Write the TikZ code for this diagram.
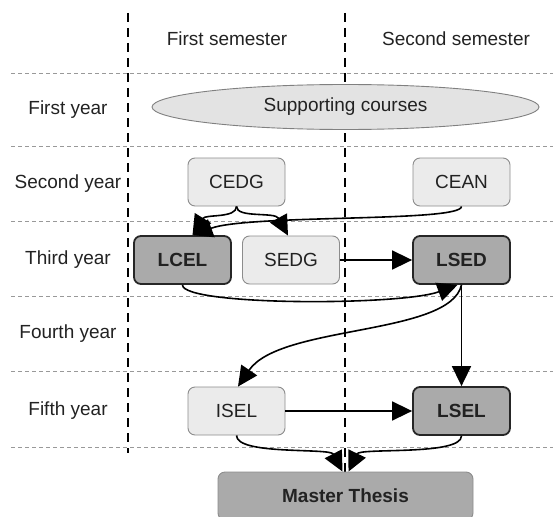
\documentclass[tikz,border=0pt]{standalone}
\usepackage{fontspec}
\setmainfont{Liberation Sans}
\usetikzlibrary{arrows.meta,shapes.geometric}
\definecolor{lightfill}{HTML}{EBEBEB}
\definecolor{darkfill}{HTML}{AAAAAA}
\definecolor{ellfill}{HTML}{E3E3E3}
\definecolor{lightborder}{HTML}{8C8C8C}
\definecolor{txt}{HTML}{222222}
\begin{document}
\begin{tikzpicture}[x=1pt,y=-1pt,
  font=\fontsize{19}{22}\selectfont,
  every node/.style={text=txt},
  lightbox/.style={draw=lightborder, fill=lightfill, line width=0.9pt, rounded corners=7pt,
    minimum width=97pt, minimum height=48pt, inner sep=0pt},
  darkbox/.style={draw=black!85, fill=darkfill, line width=1.8pt, rounded corners=7pt,
    minimum width=97pt, minimum height=48pt, inner sep=0pt, font=\fontsize{19}{22}\selectfont\bfseries},
  thesisbox/.style={draw=black!45, fill=darkfill, line width=0.9pt, rounded corners=7pt,
    minimum width=255pt, minimum height=48pt, inner sep=0pt, font=\fontsize{19}{22}\selectfont\bfseries},
  ellbox/.style={ellipse, draw=black!50, fill=ellfill, line width=0.9pt,
    minimum width=387pt, minimum height=45pt, inner sep=0pt},
  semline/.style={line width=2.2pt, black, dash pattern=on 9pt off 6pt},
  yearline/.style={line width=0.9pt, black!40, dash pattern=on 4pt off 3pt},
  arr/.style={line width=1.6pt, black, -{Triangle[length=20pt,width=19pt]}}
]
\useasboundingbox (0,0) rectangle (553,516);
\clip (0,0) rectangle (553,516);

% grid lines
\coordinate (v1t) at (128,13); \coordinate (v1b) at (128,453);
\coordinate (v2t) at (345,13); \coordinate (v2b) at (345,472);
\foreach \yy [count=\i] in {73,146,221,296,371,447}{
  \coordinate (hl\i) at (11,\yy); \coordinate (hr\i) at (553,\yy);
  \draw[yearline] (hl\i) -- (hr\i);
}
\draw[semline] (v1t) -- (v1b);
\draw[semline] (v2t) -- (v2b);

% headings
\node (sem1) at (227,39) {First semester};
\node (sem2) at (456,39) {Second semester};
\node (y1) at (68,110) {First year};
\node (y2) at (68,184) {Second year};
\node (y3) at (68,260) {Third year};
\node (y4) at (68,334) {Fourth year};
\node (y5) at (68,411) {Fifth year};

% nodes
\node[ellbox] (SUP) at (345.5,107) {Supporting courses};
\node[lightbox] (CEDG) at (236.5,182) {CEDG};
\node[lightbox] (CEAN) at (461.5,182) {CEAN};
\node[darkbox] (LCEL) at (182.5,260) {LCEL};
\node[lightbox] (SEDG) at (291,260) {SEDG};
\node[darkbox] (LSED) at (461.5,260) {LSED};
\node[lightbox] (ISEL) at (236.5,411) {ISEL};
\node[darkbox] (LSEL) at (461.5,411) {LSEL};
\node[thesisbox] (MT) at (345.5,496) {Master Thesis};

% connectors
\draw[arr] (CEDG.south) .. controls +(0,12) and +(13,-21) .. ([xshift=10pt]LCEL.north);
\draw[arr] (CEDG.south) .. controls +(0,12) and +(-13,-24) .. ([xshift=-3pt]SEDG.north);
\draw[arr] (CEAN.south) .. controls +(0,16) and +(57,-21) .. ([xshift=10pt]LCEL.north);
\draw[arr] (SEDG.east) -- (LSED.west);
\draw[arr] (LCEL.south) .. controls +(0,21) and +(-57,21) .. ([xshift=-4pt]LSED.south);
\draw[arr] (LSED.south) .. controls +(-11.5,51) and +(42,-62) .. ([xshift=1.5pt]ISEL.north);
\draw[arr] (LSED.south) -- (LSEL.north);
\draw[arr] (ISEL.east) -- (LSEL.west);
\draw[arr] (ISEL.south) .. controls +(0,20) and +(-12.5,-24) .. ([xshift=-3pt]MT.north);
\draw[arr] (LSEL.south) .. controls +(0,20) and +(11.5,-24) .. ([xshift=3pt]MT.north);
\end{tikzpicture}
\end{document}
